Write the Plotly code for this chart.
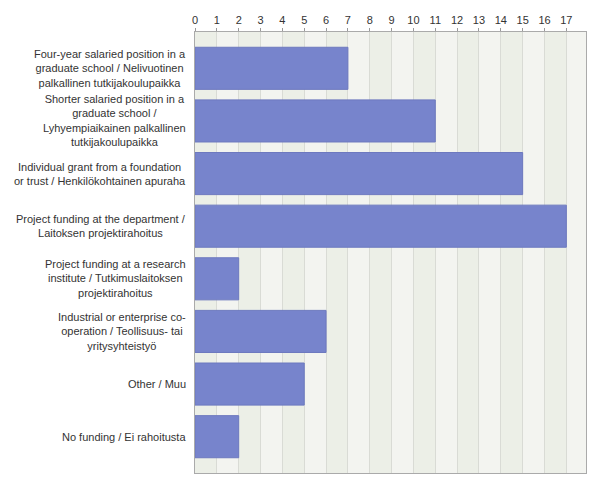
import plotly.graph_objects as go

# data
categories = [
    "Four-year salaried position in a<br>graduate school / Nelivuotinen<br>palkallinen tutkijakoulupaikka",
    "Shorter salaried position in a<br>graduate school /<br>Lyhyempiaikainen palkallinen<br>tutkijakoulupaikka",
    "Individual grant from a foundation<br>or trust / Henkilökohtainen apuraha",
    "Project funding at the department /<br>Laitoksen projektirahoitus",
    "Project funding at a research<br>institute / Tutkimuslaitoksen<br>projektirahoitus",
    "Industrial or enterprise co-<br>operation / Teollisuus- tai<br>yritysyhteistyö",
    "Other / Muu",
    "No funding / Ei rahoitusta",
]
counts = [7, 11, 15, 17, 2, 6, 5, 2]
tick_vals = list(range(0, 18))

xmax = 17.9
idx = list(range(len(categories)))

fig = go.Figure()
fig.add_trace(go.Bar(
    x=counts, y=idx, orientation='h',
    width=0.8,
    marker=dict(color='#7784cc', line=dict(color='#6d79bf', width=1)),
    hoverinfo='x',
))

# alternating background stripes
shapes = []
for i in range(18):
    shapes.append(dict(
        type='rect', xref='x', yref='paper', layer='below',
        x0=i, x1=min(i + 1, xmax), y0=0, y1=1,
        fillcolor='#ecefe7' if i % 2 == 0 else '#f3f4f0', line=dict(width=0),
    ))

# category labels, centred lines, right anchored
annotations = []
for i, c in enumerate(categories):
    annotations.append(dict(
        x=-0.019, xref='paper', y=i, yref='y', text=c, showarrow=False,
        xanchor='right', yanchor='middle', align='center',
        font=dict(size=11, color='#333333', family='Liberation Sans, Arial'),
    ))

# page body has an 8px margin, so the figure is drawn a bit smaller
fig.update_layout(
    width=592, height=480,
    margin=dict(l=187, r=14, t=24, b=15),
    paper_bgcolor='white',
    plot_bgcolor='#f3f4f0',
    showlegend=False,
    shapes=shapes,
    annotations=annotations,
    font=dict(family='Liberation Sans, Arial', size=11, color='#333333'),
    xaxis=dict(
        side='top', range=[0, xmax], tickvals=tick_vals, automargin=False,
        showgrid=True, gridcolor='#d9dbd5', gridwidth=1,
        ticks='outside', ticklen=3, tickcolor='#999999',
        showline=True, linecolor='#aaaaaa', mirror=True,
        zeroline=False, tickfont=dict(size=11, color='#333333'),
    ),
    yaxis=dict(
        range=[7.69, -0.69], showticklabels=False, showgrid=False, automargin=False,
        zeroline=False, showline=True, linecolor='#aaaaaa', mirror=True,
    ),
)

fig.write_html("out.html")
